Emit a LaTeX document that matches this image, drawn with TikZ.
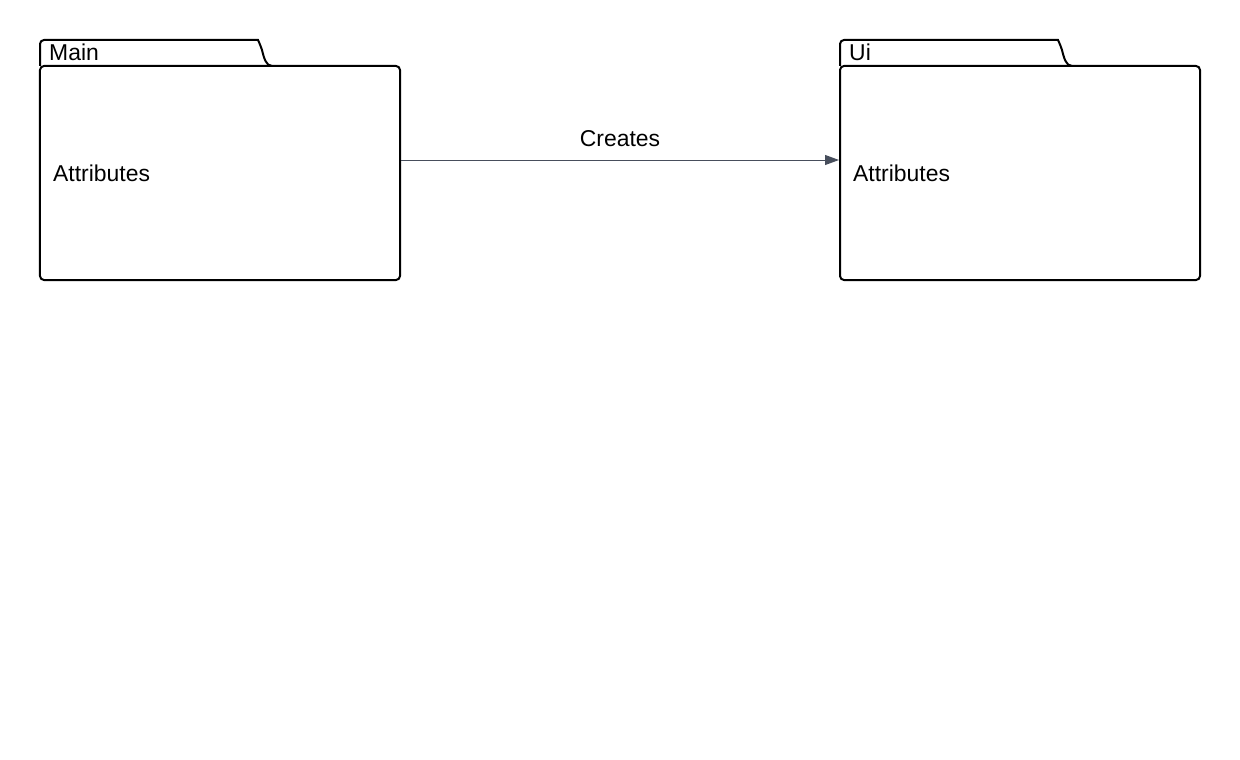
\documentclass[tikz,border=0pt]{standalone}
\usepackage{fontspec}
\setmainfont{Liberation Sans}
\usetikzlibrary{arrows.meta}
\definecolor{edgecol}{HTML}{474E5C}
\tikzset{
  pkgbody/.style={draw=black, line width=2bp, rounded corners=4bp, minimum width=360bp, minimum height=214bp, inner sep=0pt, fill=white},
  pkgtab/.style={draw=black, line width=2bp},
  txt/.style={font=\fontsize{23}{26}\selectfont},
  lbl/.style={txt, inner sep=0pt, anchor=base west},
  conn/.style={draw=edgecol, line width=1bp, -{Triangle[length=14bp, width=10bp]}}
}
\begin{document}
\begin{tikzpicture}[x=1bp, y=-1bp]
\useasboundingbox (0,0) rectangle (1240,760);
% Main package
\draw[pkgtab] (40,66) [rounded corners=4bp] -- (40,40) -- (254,40) [rounded corners=0pt] .. controls (258,40) and (260,44) .. (262,50) .. controls (264,58) and (266,66) .. (272,66);
\node[pkgbody] (main) at (220,173) {};
\node[lbl] (mainname) at (49,61) {Main};
\node[lbl] (mainattr) at (53,181) {Attributes};
% Ui package
\draw[pkgtab] (840,66) [rounded corners=4bp] -- (840,40) -- (1054,40) [rounded corners=0pt] .. controls (1058,40) and (1060,44) .. (1062,50) .. controls (1064,58) and (1066,66) .. (1072,66);
\node[pkgbody] (ui) at (1020,173) {};
\node[lbl] (uiname) at (849,61) {Ui};
\node[lbl] (uiattr) at (853,181) {Attributes};
% connector
\draw[conn] ([yshift=13bp]main.east) -- node[txt, above=13bp, inner sep=0pt] (createslbl) {Creates} ([yshift=13bp]ui.west);
\end{tikzpicture}
\end{document}
